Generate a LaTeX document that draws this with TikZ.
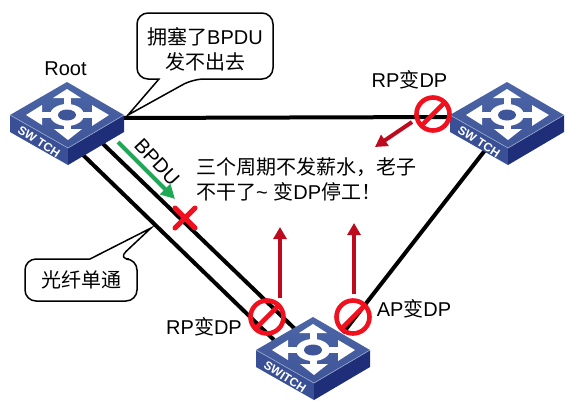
\documentclass[tikz,border=0pt]{standalone}
\usepackage{fontspec}
\setmainfont{Liberation Sans}
\newfontfamily\cjk{Noto Sans CJK SC}
\usetikzlibrary{arrows.meta}
\definecolor{topblue}{HTML}{4C66A6}
\definecolor{topdark}{HTML}{3F5599}
\definecolor{leftblue}{HTML}{3A5096}
\definecolor{rightblue}{HTML}{1F2E78}
\definecolor{signred}{HTML}{F0101E}
\definecolor{dropred}{HTML}{BE0A1E}
\definecolor{bpdugreen}{HTML}{1FA855}
\newcommand{\zh}[1]{{\cjk #1}}
\tikzset{
    fiber/.style={line width=4pt,black,line cap=butt},
    nosign/.style={circle,draw=signred,line width=4.6pt,minimum size=33pt,inner sep=0pt,outer sep=0pt},
    noslash/.style={signred,line width=4.6pt},
    drop/.style={dropred,line width=4pt,-{Triangle[length=12pt,width=13pt]}},
    bubble/.style={draw=black,line width=1.5pt,fill=white,line join=miter},
    say/.style={font=\fontsize{20}{25}\selectfont,align=center,inner sep=0pt},
    switchpic/.pic={
        \fill[leftblue] (-57,0) -- (1,33) -- (1,50) -- (-57,17) -- cycle;
        \fill[rightblue] (57,0) -- (1,33) -- (1,50) -- (57,17) -- cycle;
        \shade[top color=topblue,bottom color=topdark] (-57,0) -- (0,-33) -- (57,0) -- (1,33) -- cycle;
        \draw[white!45!topblue,line width=.6pt] (-57,0) -- (1,33) -- (57,0);
        \draw[white,line width=6pt] (-32,0) -- (32,0);
        \draw[white,line width=7pt] (0,-19) -- (0,19);
        \fill[white] (-41,0) -- (-25,-10) -- (-25,10) -- cycle;
        \fill[white] (42,0) -- (25,-10) -- (25,11) -- cycle;
        \fill[white] (0,-26) -- (-14,-17) -- (14,-17) -- cycle;
        \fill[white] (1,25) -- (-13,14) -- (15,14) -- cycle;
        \fill[white] (0,0) ellipse (17 and 11);
        \fill[topdark] (0,0) ellipse (9 and 5.5);
        \node[white,font=\bfseries\fontsize{12}{14}\selectfont,rotate=-33,inner sep=0pt] (tag) at (-28,27) {#1};
    }
}
\begin{document}
\begin{tikzpicture}[x=1pt,y=-1pt]
    \useasboundingbox (0,0) rectangle (572,408);
    \coordinate (root) at (67,115);
    \coordinate (rpsw) at (507,115);
    \coordinate (botsw) at (313,350);
    \coordinate (rootright) at (120,118);
    \coordinate (rpleft) at (455,117);
    \coordinate (rootlowa) at (100,141);
    \coordinate (rootlowb) at (81,153);
    \coordinate (botupa) at (295,329);
    \coordinate (botupb) at (274,340);
    \coordinate (botupc) at (343,333);
    \coordinate (rplow) at (486,149);

    \draw[fiber] (rootright) -- (rpleft);
    \draw[fiber] (rootlowa) -- (botupa);
    \draw[fiber] (rootlowb) -- (botupb);
    \draw[fiber] (rplow) -- (botupc);

    \pic at (root) {switchpic={SW TCH}};
    \pic at (rpsw) {switchpic={SW TCH}};
    \pic at (botsw) {switchpic={SWITCH}};

    \node[say] (rootlabel) at (65.5,69) {Root};
    \node[say] (rptop) at (409.5,80) {RP\zh{变}DP};
    \node[say] (rpbot) at (204,327) {RP\zh{变}DP};
    \node[say] (apbot) at (414,309) {AP\zh{变}DP};

    \coordinate (blocktip) at (128,115);
    \draw[bubble] (159,79) [rounded corners=11pt] -- (137,79) -- (137,13) -- (273,13) -- (273,79) -- (193,79) [sharp corners] -- (blocktip) -- cycle;
    \node[say] (blocktext) at (205,49) {\zh{拥塞了}BPDU\\\zh{发不出去}};

    \coordinate (fibertip) at (151,228);
    \draw[bubble] (90,259) [rounded corners=11pt] -- (25,259) -- (25,301) -- (137,301) -- (137,259) -- (118,259) [sharp corners] -- (fibertip) -- cycle;
    \node[say] (fibertext) at (81,280) {\zh{光纤单通}};

    \coordinate (greena) at (118,142);
    \coordinate (greenb) at (175,199);
    \draw[bpdugreen,line width=4pt,-{Triangle[length=14pt,width=14pt]}] (greena) -- (greenb);
    \node[say,rotate=-47] (bpdu) at (157,162) {BPDU};

    \node[say,align=left,anchor=north west] (talk) at (196,157) {\zh{三个周期不发薪水，老子}\\\zh{不干了}\textasciitilde\ \zh{变}DP\zh{停工！}};

    \node[nosign] (signrp) at (433,114) {};
    \node[nosign] (signa) at (267,317) {};
    \node[nosign] (signb) at (353,317) {};
    \draw[noslash] (signrp.45) -- (signrp.225);
    \draw[noslash] (signa.45) -- (signa.225);
    \draw[noslash] (signb.45) -- (signb.225);

    \coordinate (cross) at (185,218);
    \draw[noslash,line cap=round,line width=5pt] ([shift={(-10,-10)}]cross) -- ([shift={(10,10)}]cross);
    \draw[noslash,line cap=round,line width=5pt] ([shift={(10,-10)}]cross) -- ([shift={(-10,10)}]cross);

    \coordinate (dropa) at (412,122);
    \coordinate (dropaend) at (375,147);
    \coordinate (dropb) at (280,298);
    \coordinate (dropbend) at (280,227);
    \coordinate (dropc) at (354,294);
    \coordinate (dropcend) at (354,223);
    \draw[drop] (dropa) -- (dropaend);
    \draw[drop] (dropb) -- (dropbend);
    \draw[drop] (dropc) -- (dropcend);
\end{tikzpicture}
\end{document}
